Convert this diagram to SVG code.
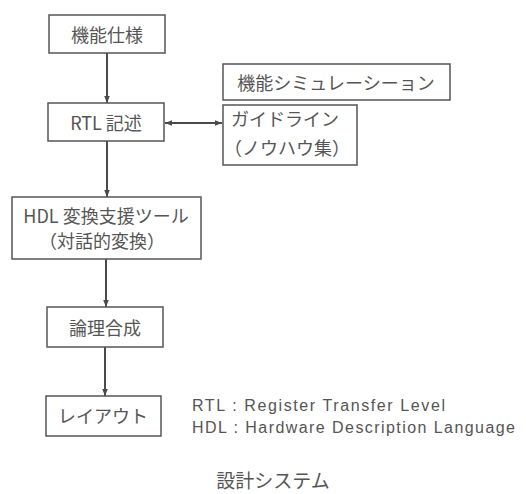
<svg xmlns="http://www.w3.org/2000/svg" width="526" height="494" viewBox="0 0 526 494">
<defs>
<marker id="ah" viewBox="0 0 10 10" refX="10" refY="5" markerWidth="7" markerHeight="7" orient="auto-start-reverse" markerUnits="userSpaceOnUse">
<path d="M0,1 L10,5 L0,9 z" fill="#4a4a4a"/>
</marker>
<style>
.box{fill:#fff;stroke:#555;stroke-width:1.5}
.t{font-family:"Noto Sans CJK JP","Noto Sans",sans-serif;fill:#555;font-size:18px;text-anchor:middle;dominant-baseline:central}
.l{font-family:"Liberation Sans","Noto Sans CJK JP",sans-serif;fill:#555;font-size:16px}
.c{stroke:#4a4a4a;stroke-width:2;fill:none;marker-end:url(#ah)}
</style>
</defs>
<rect width="526" height="494" fill="#fff"/>
<g id="connectors">
<line class="c" x1="107" y1="53" x2="107" y2="103"/>
<line class="c" x1="107" y1="141" x2="107" y2="197"/>
<line class="c" x1="106" y1="259" x2="106" y2="307"/>
<line class="c" x1="105" y1="347" x2="105" y2="396"/>
<line class="c" x1="165" y1="123" x2="222" y2="123" style="marker-start:url(#ah)"/>
</g>
<g id="n1"><rect class="box" x="49" y="15" width="116" height="38"/><text class="t" x="107" y="34">機能仕様</text></g>
<g id="n2"><rect class="box" x="48" y="103" width="116" height="38"/><text class="t" x="106" y="122">RTL 記述</text></g>
<g id="n3"><rect class="box" x="12" y="197" width="189" height="62"/><text class="t" x="106" y="215">HDL 変換支援ツール</text><text class="t" x="102" y="240">（対話的変換）</text></g>
<g id="n4"><rect class="box" x="47" y="307" width="116" height="40"/><text class="t" x="105" y="327">論理合成</text></g>
<g id="n5"><rect class="box" x="46" y="396" width="115" height="40"/><text class="t" x="103" y="415">レイアウト</text></g>
<g id="n6"><rect class="box" x="223" y="64" width="227" height="36"/><text class="t" x="336" y="82">機能シミュレーシーョン</text></g>
<g id="n7"><rect class="box" x="223" y="105" width="134" height="60"/><text class="t" x="285" y="118">ガイドライン</text><text class="t" x="287" y="147">（ノウハウ集）</text></g>
<g id="legend">
<text class="l" x="192" y="411" textLength="253">RTL : Register Transfer Level</text>
<text class="l" x="192" y="433" textLength="323">HDL : Hardware Description Language</text>
</g>
<text class="t" x="273" y="479" style="font-size:19px">設計システム</text>
</svg>
